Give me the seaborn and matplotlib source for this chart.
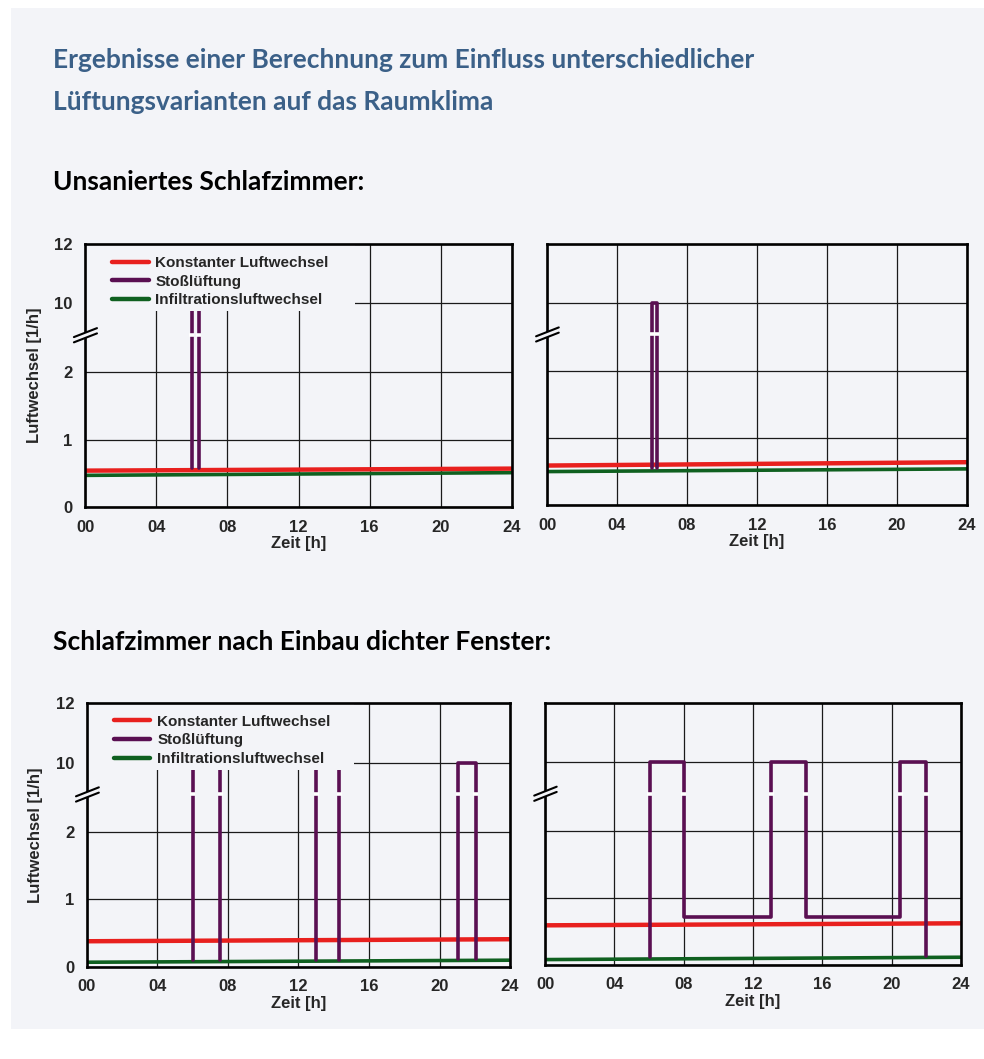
import numpy as np
import pandas as pd
import matplotlib
matplotlib.use("Agg")
import matplotlib.pyplot as plt
from matplotlib.lines import Line2D
from matplotlib.patches import Rectangle
import seaborn as sns

# --- data (hours / air changes per hour) ---
hours = [0, 24]

tl_const = [0.54, 0.57]
tl_infil = [0.47, 0.51]
tl_puls_x = [6.0, 6.0, 6.4, 6.4]
tl_puls_y = [0.58, 10.0, 10.0, 0.58]
tl_puls_id = [0, 0, 0, 0]

tr_const = [0.59, 0.64]
tr_infil = [0.50, 0.54]
tr_puls_x = [6.0, 6.0, 6.27, 6.27]
tr_puls_y = [0.55, 10.0, 10.0, 0.55]
tr_puls_id = [0, 0, 0, 0]

bl_const = [0.38, 0.41]
bl_infil = [0.07, 0.10]
bl_puls_x = [6.0, 6.0, 7.55, 7.55, 13.0, 13.0, 14.3, 14.3, 21.05, 21.05, 22.05, 22.05]
bl_puls_y = [0.10, 10.0, 10.0, 0.10, 0.10, 10.0, 10.0, 0.10, 0.12, 10.0, 10.0, 0.12]
bl_puls_id = [0, 0, 0, 0, 1, 1, 1, 1, 2, 2, 2, 2]

br_const = [0.59, 0.62]
br_infil = [0.08, 0.115]
br_puls_x = [6.05, 6.05, 8.0, 8.0, 13.05, 13.05, 15.05, 15.05, 20.5, 20.5, 22.0, 22.0]
br_puls_y = [0.12, 10.0, 10.0, 0.72, 0.72, 10.0, 10.0, 0.72, 0.72, 10.0, 10.0, 0.13]
br_puls_id = [0] * 12

series_names = ["Konstanter Luftwechsel", "Stoßlüftung", "Infiltrationsluftwechsel"]
x_ticks = [0, 4, 8, 12, 16, 20, 24]
x_labels = ["00", "04", "08", "12", "16", "20", "24"]
y_ticks = [0, 1, 2, 10, 12]
y_labels = ["0", "1", "2", "10", "12"]

RED = "#e8201e"
PURPLE = "#5a0f52"
GREEN = "#0f6020"
PANEL = "#f3f4f8"
BRK = 6.3  # where the axis is broken


# broken y axis: 0..2 linear, 2..10 squeezed, 10..12 compressed
def fwd(v):
    v = np.asarray(v, float)
    return np.where(v <= 2, v, np.where(v < 10, 2 + (v - 2) / 8 * 1.02, 3.02 + (v - 10) * 0.44))


def inv(d):
    d = np.asarray(d, float)
    return np.where(d <= 2, d, np.where(d < 3.02, 2 + (d - 2) / 1.02 * 8, 10 + (d - 3.02) / 0.44))


sns.set_theme(style="white")
plt.rcParams["font.family"] = ["Liberation Sans", "DejaVu Sans"]
plt.rcParams["font.weight"] = "bold"

fig = plt.figure(figsize=(9.84, 10.59), dpi=100)
fig.patch.set_facecolor("white")
fig.add_artist(Rectangle((11 / 984, 1 - 1029 / 1059), 1 - 11 / 984, (1029 - 8) / 1059,
                         transform=fig.transFigure, facecolor=PANEL, edgecolor="none", zorder=0))

tfont = ["Lato", "DejaVu Sans"]
fig.text(53 / 984, 0.9355, "Ergebnisse einer Berechnung zum Einfluss unterschiedlicher",
         color="#3b6088", fontsize=19, fontweight="bold", family=tfont, va="baseline")
fig.text(53 / 984, 0.8961, "Lüftungsvarianten auf das Raumklima",
         color="#3b6088", fontsize=19, fontweight="bold", family=tfont, va="baseline")
fig.text(53 / 984, 0.8206, "Unsaniertes Schlafzimmer:",
         color="black", fontsize=19, fontweight="bold", family=tfont, va="baseline")
fig.text(53 / 984, 0.3862, "Schlafzimmer nach Einbau dichter Fenster:",
         color="black", fontsize=19, fontweight="bold", family=tfont, va="baseline")

panels = [
    ([0.0864, 0.5212, 0.434, 0.2483], tl_const, tl_infil, tl_puls_x, tl_puls_y, tl_puls_id, True),
    ([0.5559, 0.5231, 0.4268, 0.2465], tr_const, tr_infil, tr_puls_x, tr_puls_y, tr_puls_id, False),
    ([0.0884, 0.0869, 0.4299, 0.2493], bl_const, bl_infil, bl_puls_x, bl_puls_y, bl_puls_id, True),
    ([0.5539, 0.0888, 0.4228, 0.2474], br_const, br_infil, br_puls_x, br_puls_y, br_puls_id, False),
]

for rect, const, infil, px, py, pid, left in panels:
    ax = fig.add_axes(rect)
    ax.set_facecolor(PANEL)
    ax.set_yscale("function", functions=(fwd, inv))

    line_df = pd.DataFrame({"Zeit": hours, "const": const, "infil": infil})
    puls_df = pd.DataFrame({"Zeit": px, "ach": py, "pulse": pid})

    sns.lineplot(data=line_df, x="Zeit", y="infil", color=GREEN, lw=2.6, ax=ax)
    sns.lineplot(data=line_df, x="Zeit", y="const", color=RED, lw=3.2, ax=ax)
    sns.lineplot(data=puls_df, x="Zeit", y="ach", units="pulse", estimator=None, sort=False,
                 color=PURPLE, lw=2.6, ax=ax)

    # white gap where the purple verticals cross the break
    for i in range(len(px) - 1):
        if px[i] == px[i + 1] and min(py[i], py[i + 1]) < BRK < max(py[i], py[i + 1]):
            ax.plot([px[i] - 0.14, px[i] + 0.14], [BRK, BRK], color="white", lw=2.6,
                    solid_capstyle="butt", zorder=2.6)

    ax.set_xlim(0, 24)
    ax.set_ylim(0, 12)
    ax.set_xticks(x_ticks)
    ax.set_xticklabels(x_labels)
    ax.grid(True, color="#1a1a1a", lw=0.9)
    ax.set_yticks(y_ticks)
    ax.tick_params(axis="both", length=0, labelsize=12)
    ax.tick_params(axis="x", pad=9)
    ax.tick_params(axis="y", pad=9)
    if left:
        ax.set_yticklabels(y_labels)
        ax.set_ylabel("Luftwechsel [1/h]", fontsize=12, fontweight="bold", labelpad=9)
    else:
        ax.set_yticklabels([])
        ax.set_ylabel("")
    ax.set_xlabel("Zeit [h]", fontsize=12, fontweight="bold", labelpad=1)
    for s in ax.spines.values():
        s.set_linewidth(1.9)
        s.set_color("black")
        s.set_zorder(5)

    # axis break mark on the left spine
    yb = float(fwd(BRK) / fwd(12))
    ax.plot([-0.026, 0.028], [yb - 0.017, yb + 0.017], transform=ax.transAxes, color=PANEL,
            lw=3.8, clip_on=False, zorder=6, solid_capstyle="butt")
    for off in (-0.01, 0.01):
        ax.plot([-0.026, 0.028], [yb - 0.017 + off, yb + 0.017 + off], transform=ax.transAxes,
                color="black", lw=1.5, clip_on=False, zorder=7)

    if left:
        # legend block hides the grid and tops of the pulses behind it
        ax.add_patch(Rectangle((0, 0.745), 0.632, 0.26, transform=ax.transAxes,
                               facecolor=PANEL, edgecolor="none", zorder=3))
        handles = [Line2D([], [], color=c, lw=3.2) for c in (RED, PURPLE, GREEN)]
        leg = ax.legend(handles, series_names, loc="upper left", bbox_to_anchor=(0.063, 0.955),
                        frameon=False, borderaxespad=0, borderpad=0, handlelength=2.4,
                        handletextpad=0.45, labelspacing=0.3, prop={"size": 11, "weight": "bold"})
        leg.set_zorder(8)

fig.savefig("out.png", dpi=100)
